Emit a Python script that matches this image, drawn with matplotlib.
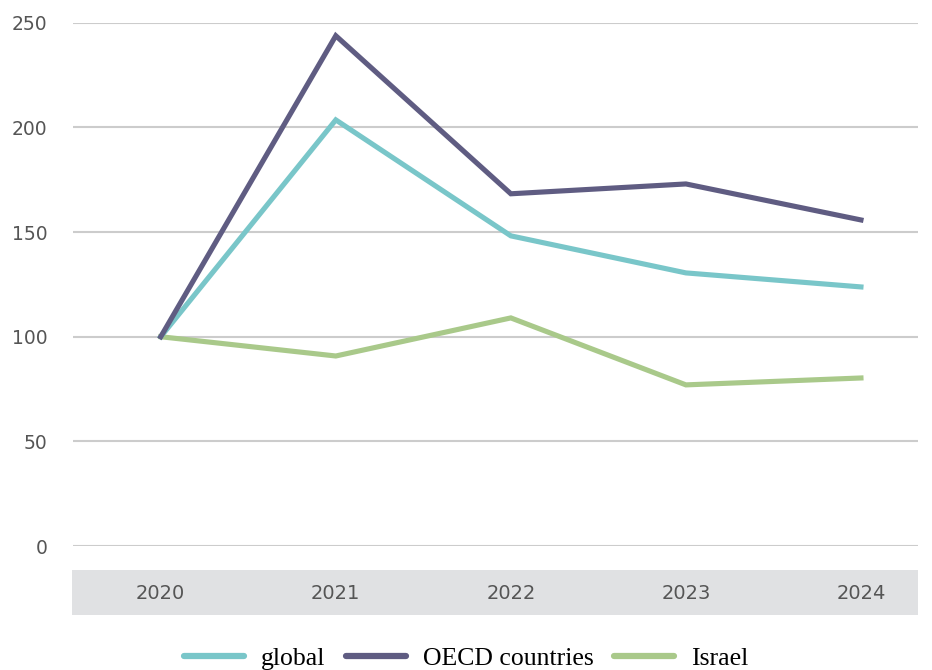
import matplotlib.pyplot as plt
from matplotlib.patches import Rectangle

years = ["2020", "2021", "2022", "2023", "2024"]
global_vals = [100, 203.6, 148.2, 130.5, 123.8]
oecd_vals = [100, 243.8, 168.3, 173.0, 155.8]
israel_vals = [100, 90.8, 109.0, 77.0, 80.3]
y_ticks = [0, 50, 100, 150, 200, 250]

fig = plt.figure(figsize=(9.32, 6.7), dpi=100)
ax = fig.add_axes([0.078, 0.185, 0.907, 0.781])

x = range(len(years))
ax.plot(x, israel_vals, color="#A9C98A", lw=3.7, label="Israel",
        solid_joinstyle="miter", clip_on=False)
ax.plot(x, global_vals, color="#79C6C9", lw=3.7, label="global",
        solid_joinstyle="miter", clip_on=False)
ax.plot(x, oecd_vals, color="#5F5C82", lw=3.7, label="OECD countries",
        solid_joinstyle="miter", clip_on=False)

ax.set_xlim(-0.503, 4.326)
ax.set_ylim(0, 250)
ax.set_yticks(y_ticks)
ax.set_xticks(list(x))
ax.set_xticklabels(years)
ax.grid(axis="y", color="#cccccc", lw=1.5)
ax.set_axisbelow(True)
for s in ax.spines.values():
    s.set_visible(False)
ax.tick_params(axis="y", length=0, pad=18, labelsize=13.5, labelcolor="#555555")
ax.tick_params(axis="x", length=0, pad=27, labelsize=14, labelcolor="#555555")

# gray band behind the year labels (figure pixels 72..918 x 570..615)
band = Rectangle((72 / 932, 1 - 615 / 670), 846 / 932, 45 / 670,
                 transform=fig.transFigure, facecolor="#E0E1E3",
                 edgecolor="none", zorder=0.1, clip_on=False)
ax.add_artist(band)

h, l = ax.get_legend_handles_labels()
order = [1, 2, 0]
leg = fig.legend([h[i] for i in order], [l[i] for i in order], loc="center",
                 bbox_to_anchor=(0.5, 0.017), ncol=3, frameon=False,
                 prop={"family": "Liberation Serif", "size": 18.5},
                 handlelength=2.35, columnspacing=0.8, handletextpad=0.65)
for line in leg.get_lines():
    line.set_linewidth(4.5)
    line.set_solid_capstyle("round")

fig.savefig("out.png", dpi=100)
